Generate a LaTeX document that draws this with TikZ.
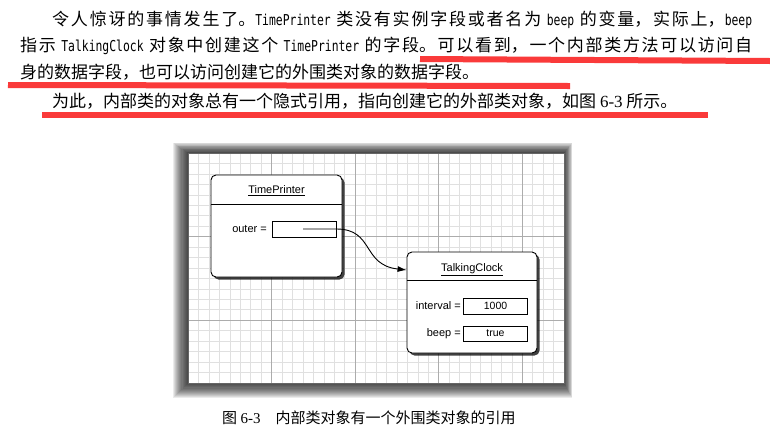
\documentclass[tikz,border=0pt]{standalone}
\usepackage{fontspec}
\setmainfont{Liberation Serif}
\setsansfont{Liberation Sans}
\newfontfamily\cjk{Noto Sans CJK SC}
\newfontfamily\codefont[FakeStretch=0.76]{DejaVu Sans Mono}
\usetikzlibrary{arrows.meta,shadows}
\XeTeXlinebreaklocale "zh"
\XeTeXlinebreakskip=0pt plus 2pt

\definecolor{marker}{RGB}{250,58,58}
\definecolor{gridminor}{RGB}{224,224,224}
\definecolor{gridmajor}{RGB}{172,172,172}

\newcommand{\zh}[1]{{\cjk #1}}
\newcommand{\code}[1]{{\codefont\fontsize{15pt}{18pt}\selectfont #1}}
\newcommand{\fullline}[2]{\parbox{#1}{\parindent=0pt\parfillskip=0pt #2}}

\tikzset{
  bodyline/.style={anchor=west, inner sep=0pt, font=\fontsize{17pt}{20pt}\selectfont},
  underscore/.style={line width=6pt, marker},
  objbox/.style={draw, rectangle, rounded corners=5pt, line width=0.9pt, fill=white,
    drop shadow={shadow xshift=2.5pt, shadow yshift=-2.5pt, opacity=0.75, fill=black}},
  fieldbox/.style={draw, rectangle, line width=0.8pt, fill=white, inner sep=0pt,
    minimum width=64pt, minimum height=16pt, font=\sffamily\fontsize{10.5pt}{12pt}\selectfont},
  boxtext/.style={inner sep=0pt, font=\sffamily\fontsize{11pt}{13pt}\selectfont}
}

\begin{document}
\begin{tikzpicture}[x=1pt, y=-1pt, line width=0.4pt]
  \useasboundingbox (0,0) rectangle (770,437);
  \fill[white] (0,0) rectangle (770,437);

  % text of the page
  \node[bodyline] (l1) at (52,20) {\fullline{700pt}{\zh{令人惊讶的事情发生了。}\code{TimePrinter}\zh{ 类没有实例字段或者名为 }\code{beep}\zh{ 的变量，实际上，}\code{beep}}};
  \node[bodyline] (l2) at (20,46) {\fullline{732pt}{\zh{指示 }\code{TalkingClock}\zh{ 对象中创建这个 }\code{TimePrinter}\zh{ 的字段。可以看到，一个内部类方法可以访问自}}};
  \node[bodyline] (l3) at (20,72) {\zh{身的数据字段，也可以访问创建它的外围类对象的数据字段。}};
  \node[bodyline] (l4) at (52,101) {\zh{为此，内部类的对象总有一个隐式引用，指向创建它的外部类对象，如图 }6-3\zh{ 所示。}};

  \draw[underscore] (420,59) -- (770,61);
  \draw[underscore] (8,85) -- (570,86);
  \draw[underscore] (42,115) -- (708,115);

  % frame with grid
  \foreach \k in {1,...,14}
    \fill[black, opacity=0.08] ({188-1.1*\k},{153-0.75*\k}) rectangle ({564+0.6*\k},{383+1.1*\k});
  \fill[white] (188,153) rectangle (564,383);
  \foreach \i in {0,...,36}
    \draw[gridminor] ({188+\i*10.444},153) -- ({188+\i*10.444},383);
  \foreach \j in {0,...,22}
    \draw[gridminor] (188,{153+\j*10.444}) -- (564,{153+\j*10.444});
  \foreach \i in {8,16,24,32}
    \draw[gridmajor, line width=0.6pt] ({188+\i*10.444},153) -- ({188+\i*10.444},383);
  \foreach \j in {8,16}
    \draw[gridmajor, line width=0.6pt] (188,{153+\j*10.444}) -- (564,{153+\j*10.444});
  \draw[black!60, line width=0.8pt] (188,153) rectangle (564,383);

  % objects
  \node[objbox, minimum width=131pt, minimum height=102pt] (tp) at (276.5,226) {};
  \draw[line width=0.8pt] ([yshift=-30pt]tp.north west) -- ([yshift=-30pt]tp.north east);
  \node[boxtext] (tptitle) at (276.5,191) {\underline{TimePrinter}};
  \node[fieldbox] (outer) at (304,229) {};
  \node[boxtext, anchor=east] (outerlbl) at (267,229) {outer =};
  \coordinate (ptr) at (303,229);

  \node[objbox, minimum width=130pt, minimum height=101pt] (tc) at (472,302.5) {};
  \draw[line width=0.8pt] ([yshift=-29pt]tc.north west) -- ([yshift=-29pt]tc.north east);
  \node[boxtext] (tctitle) at (472,270) {\underline{TalkingClock}};
  \node[fieldbox] (interval) at (495.5,306) {1000};
  \node[boxtext, anchor=east] (intervallbl) at (461,306) {interval =};
  \node[fieldbox, minimum height=15pt] (beep) at (495.5,333.5) {true};
  \node[boxtext, anchor=east] (beeplbl) at (461,333.5) {beep =};

  \draw[line width=0.9pt, -{Latex[length=9pt, width=6pt]}] (ptr) -- (outer.east)
    .. controls +(38,0) and +(-45,-5) .. (tc.west |- tctitle);

  % caption
  \node[anchor=west, inner sep=0pt, font=\fontsize{15pt}{17pt}\selectfont] (caption) at (222,418)
    {\zh{图 }6-3\quad\zh{内部类对象有一个外围类对象的引用}};
\end{tikzpicture}
\end{document}
